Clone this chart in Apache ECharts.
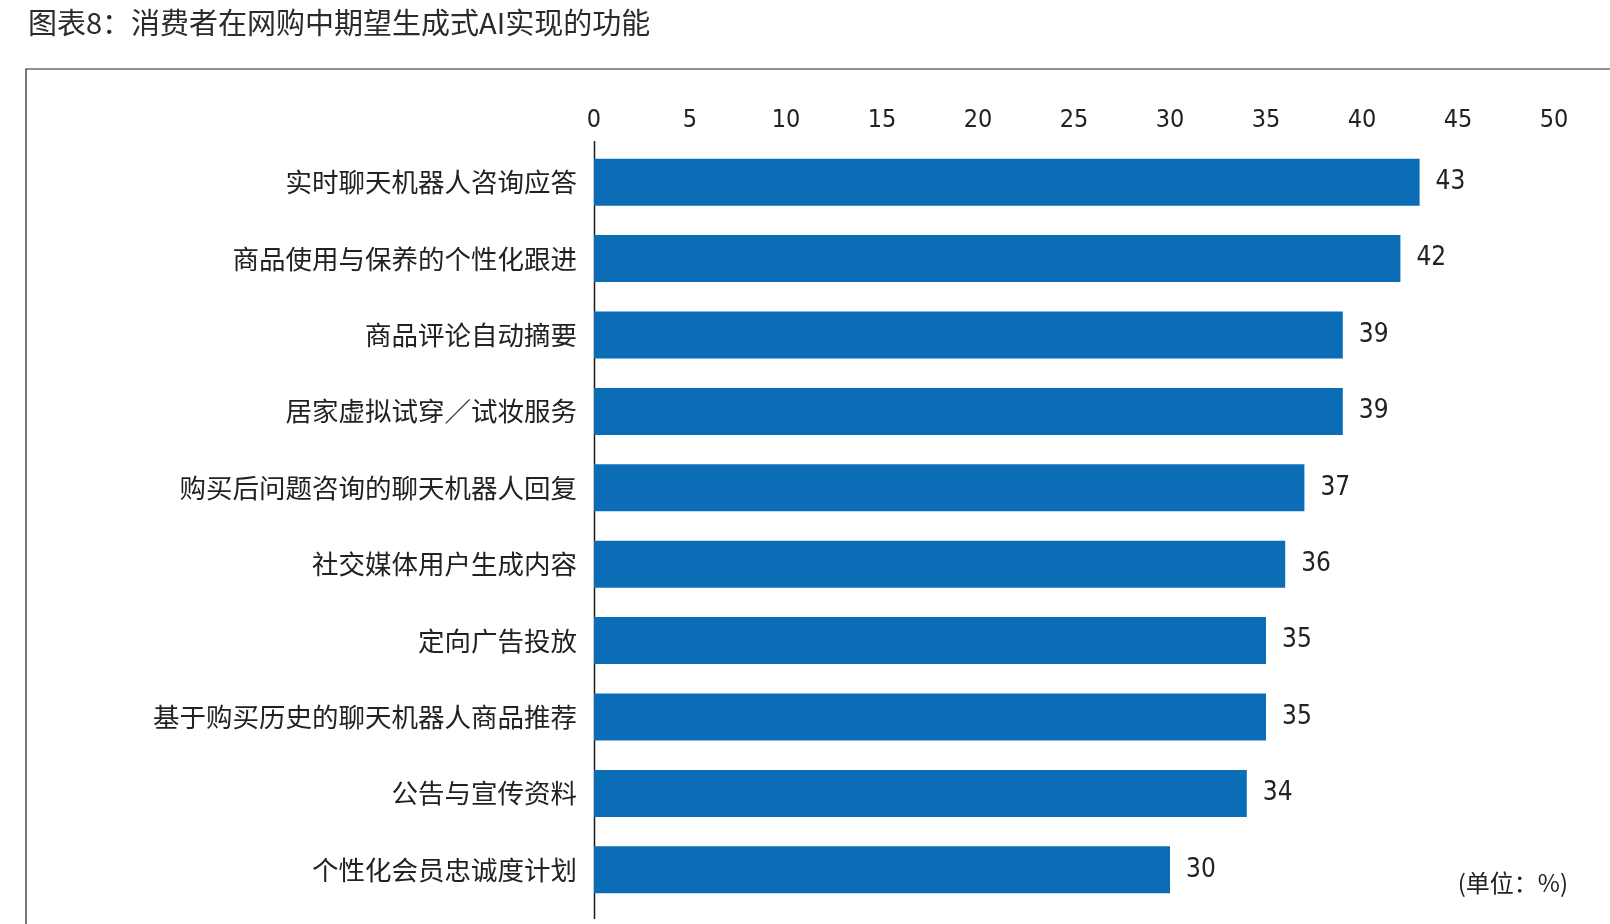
<!DOCTYPE html>
<html>
<head>
<meta charset="utf-8">
<title>消费者在网购中期望生成式AI实现的功能</title>
<script src="https://cdn.jsdelivr.net/npm/echarts@6/dist/echarts.min.js"></script>
<style>
  html, body { margin: 0; padding: 0; background: #fff; }
  #chart { width: 1610px; height: 924px; }
</style>
</head>
<body>
<div id="chart"></div>
<script>
// 功能项（从上到下）
const categories = [
  '实时聊天机器人咨询应答',
  '商品使用与保养的个性化跟进',
  '商品评论自动摘要',
  '居家虚拟试穿／试妆服务',
  '购买后问题咨询的聊天机器人回复',
  '社交媒体用户生成内容',
  '定向广告投放',
  '基于购买历史的聊天机器人商品推荐',
  '公告与宣传资料',
  '个性化会员忠诚度计划'
];
// 比例（%）
const values = [43, 42, 39, 39, 37, 36, 35, 35, 34, 30];
const axisMin = 0;
const axisMax = 50;
const axisStep = 5;

const cjkFont = '"Noto Sans CJK SC", "Noto Sans", sans-serif';
const numFont = '"Liberation Sans Narrow", "DejaVu Sans Condensed", "Noto Sans", sans-serif';

const chart = echarts.init(document.getElementById('chart'), null, { renderer: 'canvas' });

chart.setOption({
  backgroundColor: '#fff',
  animation: false,
  title: {
    text: '图表8：消费者在网购中期望生成式AI实现的功能',
    left: 23,
    top: 3,
    textStyle: { fontFamily: cjkFont, fontSize: 29, fontWeight: 'normal', color: '#2b2b2b' }
  },
  grid: { left: 594, right: 56, top: 144, height: 764, containLabel: false },
  xAxis: {
    type: 'value',
    position: 'top',
    min: axisMin,
    max: axisMax,
    interval: axisStep,
    axisLine: { show: false },
    axisTick: { show: false },
    splitLine: { show: false },
    axisLabel: { margin: 11, fontFamily: numFont, fontSize: 25, color: '#222' }
  },
  yAxis: {
    type: 'category',
    inverse: true,
    data: categories,
    axisLine: { show: false },
    axisTick: { show: false },
    axisLabel: {
      margin: 17,
      fontFamily: cjkFont,
      fontSize: 26.5,
      color: '#222',
      padding: [0, 0, 5, 0] // 中文字形略偏下，往上提一点
    }
  },
  series: [{
    type: 'bar',
    data: values,
    barWidth: 47,
    itemStyle: { color: '#0a6db6' },
    label: {
      show: true,
      position: 'right',
      distance: 16,
      fontFamily: numFont,
      fontSize: 26,
      color: '#222'
    }
  }]
});

// 外框、单位说明，以及比网格略长的纵轴线
const x0 = Math.round(chart.convertToPixel({ xAxisIndex: 0 }, axisMin)) + 0.5;
chart.setOption({
  graphic: [
    {
      type: 'polyline',
      shape: { points: [[26, 924], [26, 69], [1610, 69]] },
      style: { stroke: '#222', lineWidth: 1.2, fill: null }
    },
    {
      type: 'text',
      right: 42,
      top: 871,
      style: { text: '(单位：%)', font: '24px ' + cjkFont, fill: '#222' }
    },
    {
      type: 'line',
      shape: { x1: x0, y1: 141, x2: x0, y2: 919 },
      style: { stroke: '#1a1a1a', lineWidth: 1.5 }
    }
  ]
});
</script>
</body>
</html>
